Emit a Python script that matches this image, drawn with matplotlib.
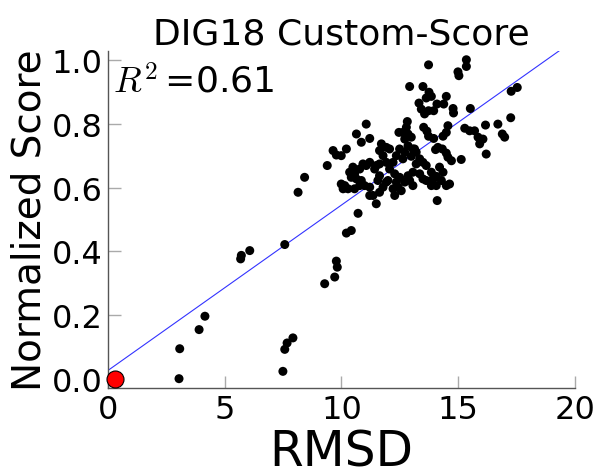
import numpy as np
import matplotlib
matplotlib.use("Agg")
import matplotlib.pyplot as plt

# ── data ──────────────────────────────────────────────────────────────────────

rmsd = [
    # lower-left stragglers
    3.07, 3.04, 3.90, 4.15, 5.68, 5.71, 6.07, 7.49, 7.57, 7.67, 7.92, 7.57,
    # upper band
    13.73, 15.35, 15.35, 14.99, 15.03, 12.92, 13.49, 13.75, 13.85, 13.63,
    14.49, 13.32, 13.42, 13.56, 13.73, 13.95, 14.09, 14.38, 14.78, 14.80,
    15.52, 12.82, 13.52, 13.66, 13.95, 13.73, 14.56, 14.49, 14.35, 14.13,
    14.03, 15.28, 15.49, 15.70, 15.85, 15.92, 16.06, 16.17, 16.70, 16.89,
    16.99, 16.20, 15.13, 14.32, 14.49, 14.56, 14.71,
    # right side of the cluster
    14.20, 14.35, 14.06, 14.28, 14.06, 14.49, 14.63, 14.10, 13.85, 13.92,
    13.63, 13.85, 13.49, 13.35, 13.20, 13.35, 13.20, 13.06, 13.49, 13.63,
    # core of the cluster
    12.85, 12.71, 12.85, 12.63, 12.46, 12.78, 12.99, 13.13, 12.99, 12.63,
    12.71, 12.49, 12.35, 12.21, 12.06, 11.92, 11.71, 11.63, 11.78, 11.92,
    11.63, 12.06, 12.28, 12.49, 12.35, 12.42, 12.21, 11.92, 11.63, 11.56,
    11.42, 11.49, 11.21, 11.06, 10.92, 10.78, 10.49, 10.35, 10.42, 10.56,
    10.64, 10.85, 10.99, 10.78, 10.56, 10.28, 10.14, 9.99, 10.07, 11.21,
    11.35, 11.49, 11.21, 11.63, 11.78, 11.99, 12.28, 12.56, 12.71, 12.92,
    13.06, 12.85, 13.06,
    # left side of the cluster
    11.06, 10.64, 10.85, 11.21, 10.21, 9.64, 9.78, 9.99, 9.39, 8.42, 8.14,
    10.71, 10.42, 10.21, 9.78, 9.82, 9.71, 9.28,
    # far right
    17.25, 17.27, 17.53,
]

score = [
    0.094, 0.000, 0.154, 0.196, 0.376, 0.387, 0.402, 0.023, 0.092, 0.112, 0.128, 0.421,
    0.985, 1.001, 0.980, 0.963, 0.951, 0.917, 0.917, 0.899, 0.886, 0.881,
    0.886, 0.865, 0.846, 0.831, 0.841, 0.841, 0.862, 0.862, 0.848, 0.834,
    0.848, 0.807, 0.789, 0.777, 0.754, 0.761, 0.794, 0.773, 0.761, 0.726,
    0.719, 0.786, 0.778, 0.778, 0.758, 0.737, 0.752, 0.796, 0.799, 0.768,
    0.758, 0.705, 0.688, 0.721, 0.708, 0.695, 0.684,
    0.664, 0.648, 0.635, 0.622, 0.606, 0.606, 0.611, 0.559, 0.648, 0.627,
    0.622, 0.606, 0.627, 0.643, 0.674, 0.690, 0.711, 0.721, 0.679, 0.669,
    0.731, 0.752, 0.768, 0.773, 0.773, 0.789, 0.758, 0.721, 0.698, 0.690,
    0.711, 0.721, 0.700, 0.679, 0.721, 0.726, 0.737, 0.716, 0.700, 0.679,
    0.674, 0.658, 0.643, 0.632, 0.617, 0.601, 0.596, 0.617, 0.637, 0.622,
    0.658, 0.669, 0.679, 0.669, 0.674, 0.658, 0.664, 0.648, 0.632, 0.643,
    0.627, 0.622, 0.606, 0.606, 0.596, 0.596, 0.606, 0.611, 0.596, 0.601,
    0.575, 0.549, 0.575, 0.585, 0.601, 0.622, 0.575, 0.590, 0.617, 0.622,
    0.606, 0.637, 0.648,
    0.799, 0.768, 0.742, 0.754, 0.721, 0.716, 0.702, 0.700, 0.669, 0.632, 0.585,
    0.519, 0.465, 0.457, 0.369, 0.350, 0.319, 0.298,
    0.819, 0.902, 0.914,
]

# native structure (red marker)
native_rmsd = [0.29]
native_score = [0.0]

# regression line coefficients (slope, intercept) and R^2
fit_coef = [0.0519, 0.026]
r_squared = 0.61

x_ticks = [0, 5, 10, 15, 20]
y_ticks = [0.0, 0.2, 0.4, 0.6, 0.8, 1.0]

# ── plot ───────────────────────────────────────────────────────────────────────

plt.rcParams["mathtext.fontset"] = "cm"

fig = plt.figure(figsize=(5.97, 4.77), dpi=100)
ax = fig.add_axes([0.181, 0.184, 0.782, 0.708])

ax.scatter(rmsd, score, s=42, c="black", edgecolors="none", zorder=3)
ax.scatter(native_rmsd, native_score, s=150, c="red", edgecolors="black",
           linewidths=0.8, zorder=4, clip_on=False)

xs = np.array([0, 20])
ax.plot(xs, np.polyval(fit_coef, xs), color="blue", lw=0.8, alpha=0.8, zorder=2)

ax.set_xlim(0, 20)
ax.set_ylim(-0.03, 1.03)
ax.set_xticks(x_ticks)
ax.set_yticks(y_ticks)
ax.set_yticklabels([f"{v:.1f}" for v in y_ticks])

for side in ("top", "right"):
    ax.spines[side].set_visible(False)
for side in ("left", "bottom"):
    ax.spines[side].set_color("#555555")
    ax.spines[side].set_linewidth(1.0)

ax.tick_params(direction="in", length=9, width=1, color="#aaaaaa",
               labelsize=23, pad=4)

ax.set_xlabel("RMSD", fontsize=35, labelpad=2)
ax.set_ylabel("Normalized Score", fontsize=28, labelpad=2)
ax.set_title("DIG18 Custom-Score", fontsize=26, pad=2)

ax.text(0.01, 0.877, r"$R^2\,$=" + f"{r_squared:.2f}", transform=ax.transAxes,
        fontsize=26, va="baseline", ha="left")

plt.savefig("out.png", dpi=100)
